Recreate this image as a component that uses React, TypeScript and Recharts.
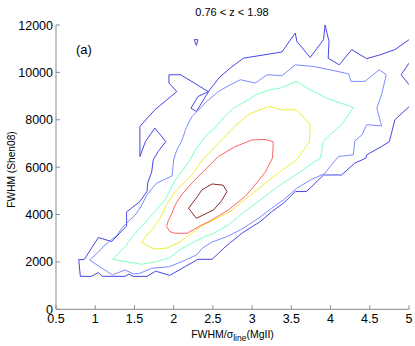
import { LineChart, Line, XAxis, YAxis } from 'recharts';

const FONT = '"Liberation Sans", Arial, Helvetica, sans-serif';
const AXIS = '#8a8a8a';

const X_TICKS = [0.5, 1, 1.5, 2, 2.5, 3, 3.5, 4, 4.5, 5];
const Y_TICKS = [0, 2000, 4000, 6000, 8000, 10000, 12000];

// contour levels, outermost first; [FWHM/sigma, FWHM]
const outerMain = [
  [5.0, 8550], [4.82, 8000], [4.75, 7080], [4.65, 6870], [4.46, 6520], [4.45, 6380], [4.31, 6170],
  [4.14, 5670], [3.91, 5670], [3.76, 5180], [3.69, 4970], [3.55, 4970], [3.4, 4480], [3.25, 4120],
  [3.1, 3690], [3.0, 3490], [2.87, 3210], [2.72, 2810], [2.64, 2580], [2.49, 2110], [2.31, 2110],
  [2.15, 1810], [1.95, 1430], [1.77, 1610], [1.66, 1390], [1.48, 1390], [1.43, 1490], [1.38, 1390],
  [1.09, 1390], [1.04, 1550], [0.95, 1390], [0.81, 1390], [0.79, 2100], [0.86, 2100], [1.04, 3030],
  [1.21, 2860], [1.4, 3520], [1.4, 4110], [1.57, 4550], [1.66, 4970], [1.67, 5340], [1.72, 5800],
  [1.74, 6310], [1.8, 6650], [1.9, 7080], [1.76, 7650], [1.64, 7080], [1.57, 6450], [1.57, 7720],
  [1.76, 8420], [2.04, 9190], [1.94, 9550], [1.94, 9900], [2.09, 9900], [2.44, 9190], [2.31, 8980],
  [2.22, 8490], [2.29, 8350], [2.46, 9270], [2.59, 9810], [2.72, 10180], [2.89, 10600], [3.38, 10860],
  [3.55, 11660], [3.57, 11310], [3.74, 10630], [3.91, 11380], [3.93, 12000],
];
const outerTop = [
  [3.93, 12000], [3.98, 11310], [3.97, 10600], [4.11, 10320], [4.27, 10960], [4.46, 10580],
  [4.63, 10740], [4.82, 10960], [5.0, 11380],
];
const outerEdge = [[5.0, 10390], [4.9, 9900], [5.0, 9480]];
const outerIsland = [[2.26, 11380], [2.31, 11380], [2.29, 11140], [2.26, 11380]];

const level2 = [
  [0.93, 2080], [1.04, 2420], [1.11, 2670], [1.19, 2890], [1.27, 3100], [1.34, 3430], [1.42, 3700],
  [1.51, 3980], [1.58, 4320], [1.66, 4830], [1.78, 5320], [1.98, 5630], [2.0, 6310], [2.04, 6730],
  [2.1, 7080], [2.16, 7660], [2.23, 8120], [2.42, 8770], [2.57, 9190], [2.68, 9400], [2.85, 9690],
  [3.04, 9550], [3.19, 9900], [3.38, 9860], [3.55, 10320], [3.78, 10250], [3.99, 10110], [4.23, 9940],
  [4.26, 9620], [4.44, 9620], [4.62, 10110], [4.71, 9900], [4.65, 9050], [4.59, 8490], [4.65, 7740],
  [4.46, 7790], [4.4, 7360], [4.31, 7110], [4.29, 6520], [4.1, 6450], [3.92, 5720], [3.76, 5490],
  [3.57, 5110], [3.4, 4620], [3.25, 4270], [3.1, 3890], [2.97, 3600], [2.85, 3350], [2.68, 3070],
  [2.49, 2840], [2.37, 2590], [2.29, 2290], [2.15, 2080], [1.95, 1800], [1.72, 1730], [1.57, 1520],
  [1.49, 1490], [1.38, 1660], [1.22, 1450], [1.06, 1790], [0.93, 2080],
];

const level3 = [
  [1.22, 2110], [1.38, 2640], [1.49, 3140], [1.59, 3490], [1.76, 4120], [1.89, 4620], [2.02, 5460],
  [2.12, 5890], [2.21, 6310], [2.29, 6800], [2.42, 7360], [2.53, 7660], [2.63, 8070], [2.76, 8490],
  [2.95, 8840], [3.04, 9050], [3.23, 9270], [3.36, 9340], [3.57, 9620], [3.7, 9340], [3.95, 8910],
  [4.29, 8520], [4.14, 7790], [3.99, 7360], [3.91, 7080], [3.87, 6380], [3.8, 6240], [3.59, 5750],
  [3.36, 5250], [3.19, 4830], [3.02, 4410], [2.85, 3980], [2.7, 3560], [2.51, 3210], [2.4, 3070],
  [2.25, 2820], [2.08, 2520], [1.95, 2180], [1.78, 2010], [1.59, 1900], [1.22, 2110],
];

const level4 = [
  [1.59, 2820], [1.66, 3140], [1.74, 3430], [1.83, 3860], [1.9, 4360], [2.02, 4970], [2.23, 5670],
  [2.37, 6310], [2.49, 6730], [2.63, 7220], [2.8, 7790], [2.95, 8210], [3.04, 8340], [3.21, 8560],
  [3.38, 8420], [3.57, 8420], [3.74, 7790], [3.73, 7070], [3.57, 6310], [3.36, 5810], [3.14, 5250],
  [2.93, 4690], [2.72, 4120], [2.51, 3770], [2.34, 3490], [2.17, 3070], [2.08, 2840], [1.91, 2580],
  [1.75, 2540], [1.59, 2820],
];

const level5 = [
  [1.91, 3490], [1.93, 3730], [1.98, 4070], [2.02, 4410], [2.1, 4830], [2.23, 5320], [2.4, 5890],
  [2.57, 6450], [2.78, 6860], [3.0, 7150], [3.17, 7170], [3.27, 7070], [3.26, 6390], [3.17, 5800],
  [3.06, 5340], [2.91, 4760], [2.7, 4200], [2.49, 3770], [2.36, 3560], [2.17, 3210], [2.02, 3210],
  [1.95, 3280], [1.91, 3490],
];

const level6 = [
  [2.19, 4270], [2.29, 4700], [2.36, 5040], [2.49, 5290], [2.63, 5240], [2.68, 4970], [2.61, 4580],
  [2.51, 4200], [2.29, 3840], [2.19, 4270],
];

const toPts = (arr: number[][]) => arr.map(([x, y]) => ({ x, y }));

const contours = [
  { id: 'outerMain', color: '#4646e6', pts: outerMain },
  { id: 'outerTop', color: '#4646e6', pts: outerTop },
  { id: 'outerEdge', color: '#4646e6', pts: outerEdge },
  { id: 'outerIsland', color: '#4646e6', pts: outerIsland },
  { id: 'level2', color: '#7b8cff', pts: level2 },
  { id: 'level3', color: '#7cffc0', pts: level3 },
  { id: 'level4', color: '#eeee3a', pts: level4 },
  { id: 'level5', color: '#ff6464', pts: level5 },
  { id: 'level6', color: '#8b2b2b', pts: level6 },
];

const BottomTick = (p: any) => (
  <g>
    <line x1={p.x} y1={p.y} x2={p.x} y2={p.y - 4} stroke={AXIS} />
    <text x={p.x} y={p.y + 13.7} textAnchor="middle" fontSize={12.5} fill="#000" fontFamily={FONT}>
      {String(p.payload.value)}
    </text>
  </g>
);

const LeftTick = (p: any) => (
  <g>
    <line x1={p.x} y1={p.y} x2={p.x + 4} y2={p.y} stroke={AXIS} />
    <text x={p.x - 3} y={p.y + 4.5} textAnchor="end" fontSize={12.5} fill="#000" fontFamily={FONT}>
      {String(p.payload.value)}
    </text>
  </g>
);

const TopTick = (p: any) => <line x1={p.x} y1={p.y} x2={p.x} y2={p.y + 4} stroke={AXIS} />;
const RightTick = (p: any) => <line x1={p.x} y1={p.y} x2={p.x - 4} y2={p.y} stroke={AXIS} />;

export default function App() {
  return (
    <div style={{ position: 'absolute', left: 0, top: 0, width: 415, height: 346, background: '#fff', fontFamily: FONT }}>
      <LineChart width={415} height={346} margin={{ top: 25, right: 6, bottom: 0, left: 0 }}>
        <XAxis xAxisId="b" dataKey="x" type="number" domain={[0.5, 5]} ticks={X_TICKS} interval={0}
          allowDataOverflow height={36.7} tickSize={0} tickMargin={0} tick={BottomTick} axisLine={{ stroke: AXIS }} />
        <XAxis xAxisId="t" orientation="top" dataKey="x" type="number" domain={[0.5, 5]} ticks={X_TICKS} interval={0}
          allowDataOverflow height={0} tickSize={0} tickMargin={0} tick={TopTick} axisLine={{ stroke: AXIS }} />
        <YAxis yAxisId="l" type="number" domain={[0, 12000]} ticks={Y_TICKS} interval={0}
          allowDataOverflow width={56} tickSize={0} tickMargin={0} tick={LeftTick} axisLine={{ stroke: AXIS }} />
        <YAxis yAxisId="r" orientation="right" type="number" domain={[0, 12000]} ticks={Y_TICKS} interval={0}
          allowDataOverflow width={0} tickSize={0} tickMargin={0} tick={RightTick} axisLine={{ stroke: AXIS }} />
        {contours.map((c) => (
          <Line key={c.id} xAxisId="b" yAxisId="l" data={toPts(c.pts)} dataKey="y" type="linear"
            stroke={c.color} strokeWidth={1} dot={false} activeDot={false} isAnimationActive={false} />
        ))}
      </LineChart>
      <svg width={415} height={346} style={{ position: 'absolute', left: 0, top: 0, pointerEvents: 'none' }}>
        <text x={232} y={15.5} textAnchor="middle" fontSize={11} fill="#000" fontFamily={FONT}>0.76 &lt; z &lt; 1.98</text>
        <text x={76} y={54} fontSize={13} fill="#000" fontFamily={FONT}>(a)</text>
        <text x={15} y={169.5} transform="rotate(-90 15 169.5)" textAnchor="middle" fontSize={10.2} fill="#000" fontFamily={FONT}>
          FWHM (Shen08)
        </text>
        <text x={232.5} y={337.5} textAnchor="middle" fontSize={10.5} fill="#000" fontFamily={FONT}>
          FWHM/σ<tspan fontSize={8.5} dy={3}>line</tspan><tspan dy={-3}>(MgII)</tspan>
        </text>
      </svg>
    </div>
  );
}
